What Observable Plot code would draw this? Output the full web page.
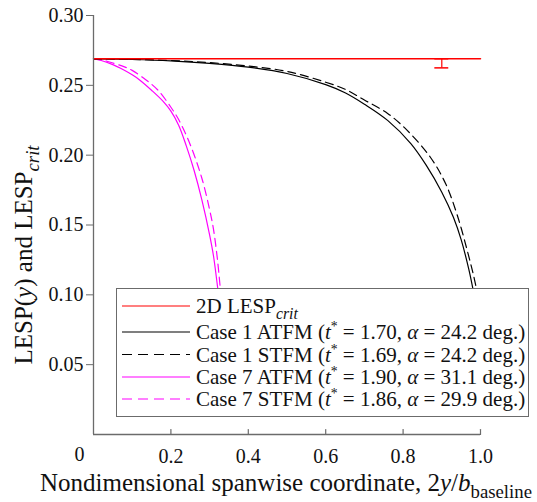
<!DOCTYPE html>
<html><head><meta charset="utf-8">
<script src="https://cdn.jsdelivr.net/npm/d3@7"></script>
<script src="https://cdn.jsdelivr.net/npm/@observablehq/plot@0.6"></script>
<style>
body{margin:0;background:#fff;}
#chart{position:relative;width:537px;height:502px;}
</style></head><body><div id="chart"></div>
<script>
// ---- data ----
const xTicks = [0.2, 0.4, 0.6, 0.8, 1.0];
const yTicks = [0.05, 0.10, 0.15, 0.20, 0.25, 0.30];
const originLabel = "0";

const critX = [0, 1.0];
const critY = [0.269, 0.269];
const errBarX = [0.9];
const errBarLow = [0.2625];
const errBarHigh = [0.269];

const case1AtfmX = [0, 0.1, 0.2, 0.3, 0.4, 0.5, 0.6, 0.65, 0.7, 0.76, 0.82, 0.86, 0.9, 0.93, 0.95, 0.97, 0.985];
const case1AtfmY = [0.269, 0.2685, 0.2675, 0.2657, 0.263, 0.2585, 0.2505, 0.2447, 0.2365, 0.2249, 0.2083, 0.1927, 0.1735, 0.1555, 0.1395, 0.118, 0.0977];

const case1StfmX = [0, 0.1, 0.2, 0.3, 0.4, 0.5, 0.6, 0.65, 0.7, 0.76, 0.81, 0.87, 0.91, 0.94, 0.965, 0.983, 0.995];
const case1StfmY = [0.269, 0.2686, 0.2678, 0.2663, 0.2638, 0.26, 0.2522, 0.2472, 0.2395, 0.2299, 0.2179, 0.1987, 0.1795, 0.157, 0.1325, 0.1127, 0.0971];

const case7AtfmX = [0, 0.02, 0.05, 0.07, 0.1, 0.12, 0.15, 0.18, 0.2, 0.22, 0.24, 0.26, 0.28, 0.3, 0.31, 0.32, 0.33];
const case7AtfmY = [0.269, 0.2678, 0.2648, 0.2622, 0.2575, 0.2537, 0.2465, 0.2385, 0.2315, 0.2215, 0.2065, 0.189, 0.168, 0.143, 0.128, 0.107, 0.085];

const case7StfmX = [0, 0.02, 0.05, 0.08, 0.1, 0.13, 0.15, 0.17, 0.2, 0.22, 0.25, 0.28, 0.3, 0.31, 0.32, 0.33, 0.335];
const case7StfmY = [0.269, 0.2683, 0.266, 0.2632, 0.2607, 0.255, 0.2508, 0.2455, 0.2343, 0.2255, 0.2075, 0.1835, 0.161, 0.147, 0.126, 0.097, 0.08];

const legendLabels = [
  [{t:"2D LESP"},{t:"crit",i:true,sub:true}],
  [{t:"Case 1 ATFM ("},{t:"t",i:true},{t:"*",sup:true},{t:" = 1.70, "},{t:"α",i:true},{t:" = 24.2 deg.)"}],
  [{t:"Case 1 STFM ("},{t:"t",i:true},{t:"*",sup:true},{t:" = 1.69, "},{t:"α",i:true},{t:" = 24.2 deg.)"}],
  [{t:"Case 7 ATFM ("},{t:"t",i:true},{t:"*",sup:true},{t:" = 1.90, "},{t:"α",i:true},{t:" = 31.1 deg.)"}],
  [{t:"Case 7 STFM ("},{t:"t",i:true},{t:"*",sup:true},{t:" = 1.86, "},{t:"α",i:true},{t:" = 29.9 deg.)"}]
];
const legendColors = ["#ff0000", "#000000", "#000000", "#ff00ff", "#ff00ff"];
const legendDash = [null, null, "10,6", null, "10,6"];
const xLabel = [{t:"Nondimensional spanwise coordinate, 2"},{t:"y",i:true},{t:"/"},{t:"b",i:true},{t:"baseline",sub:true}];
const yLabel = [{t:"LESP("},{t:"y",i:true},{t:") and LESP"},{t:"crit",i:true,sub:true}];

// ---- build ----
const zip = (xs, ys) => xs.map((x, k) => ({x, y: ys[k]}));
const FONT = "'Liberation Serif', 'Times New Roman', serif";
const DASH = "8,5";
const errCapHalf = 0.018;
const AX = "#6b6b6b";

const chart = Plot.plot({
  width: 537, height: 502,
  marginLeft: 93, marginRight: 57, marginTop: 15, marginBottom: 68,
  x: {domain: [0, 1]},
  y: {domain: [0, 0.3]},
  style: `font-family: ${FONT}; font-size: 20px; color: #111; background: #fff;`,
  marks: [
    Plot.line(zip(case7AtfmX, case7AtfmY), {x: "x", y: "y", stroke: "#ff00ff", strokeWidth: 1.2, curve: "catmull-rom"}),
    Plot.line(zip(case7StfmX, case7StfmY), {x: "x", y: "y", stroke: "#ff00ff", strokeWidth: 1.2, strokeDasharray: DASH, curve: "catmull-rom"}),
    Plot.line(zip(case1AtfmX, case1AtfmY), {x: "x", y: "y", stroke: "#000", strokeWidth: 1.2, curve: "catmull-rom"}),
    Plot.line(zip(case1StfmX, case1StfmY), {x: "x", y: "y", stroke: "#000", strokeWidth: 1.2, strokeDasharray: DASH, curve: "catmull-rom"}),
    Plot.line(zip(critX, critY), {x: "x", y: "y", stroke: "#ff0000", strokeWidth: 1.5}),
    Plot.ruleX(errBarX.map((x, k) => ({x, lo: errBarLow[k], hi: errBarHigh[k]})), {x: "x", y1: "lo", y2: "hi", stroke: "#ff0000", strokeWidth: 1.2}),
    Plot.ruleY(errBarX.flatMap((x, k) => [{x, y: errBarLow[k]}, {x, y: errBarHigh[k]}]), {y: "y", x1: d => d.x - errCapHalf, x2: d => d.x + errCapHalf, stroke: "#ff0000", strokeWidth: 1.5}),
    Plot.ruleX([0], {stroke: AX, strokeWidth: 1.3}),
    Plot.ruleY([0], {x1: 0, x2: 1, stroke: AX, strokeWidth: 1.3}),
    Plot.axisY({ticks: yTicks, tickSize: 7, tickPadding: 3, tickFormat: d3.format(".2f"), label: null, stroke: AX, fill: "#111", fontSize: 20, fontFamily: FONT}),
    Plot.axisX({ticks: xTicks, tickSize: 0, tickPadding: 14, tickFormat: d3.format(".1f"), label: null, fill: "#111", fontSize: 20, fontFamily: FONT}),
    Plot.vector(xTicks, {x: d => d, y: 0, length: 5, anchor: "start", stroke: AX, strokeWidth: 1.2,
      shape: {draw(ctx, l) { ctx.moveTo(0, 0); ctx.lineTo(0, -l); }}}),
    Plot.text([originLabel], {x: 0, y: 0, text: d => d, dx: -14, dy: 20, fontSize: 20, fontFamily: FONT, fill: "#111", lineAnchor: "middle"})
  ]
});
document.getElementById("chart").appendChild(chart);

const svg = d3.select(chart);

function richText(g, parts, size, anchor) {
  const t = g.append("text").attr("font-family", FONT).attr("font-size", size).attr("fill", "#111")
    .attr("text-anchor", anchor).style("font-family", FONT).style("font-size", size + "px");
  let shift = 0;
  for (const p of parts) {
    const s = t.append("tspan").text(p.t);
    if (p.i) s.attr("font-style", "italic");
    let target = 0;
    if (p.sub) { s.style("font-size", (size * 0.75) + "px"); target = size * 0.28; }
    if (p.sup) { s.style("font-size", (size * 0.65) + "px"); target = -size * 0.36; }
    if (target - shift !== 0) s.attr("dy", target - shift);
    shift = target;
  }
  return t;
}

// legend
const lg = svg.append("g");
lg.append("rect").attr("x", 116.5).attr("y", 288.5).attr("width", 412).attr("height", 128)
  .attr("fill", "#fff").attr("stroke", AX).attr("stroke-width", 1);
const rowY = [306, 332, 354.5, 377, 399];
legendLabels.forEach((parts, k) => {
  const l = lg.append("line").attr("x1", 122).attr("x2", 190).attr("y1", rowY[k]).attr("y2", rowY[k])
    .attr("stroke", legendColors[k]).attr("stroke-width", 1.2);
  if (legendDash[k]) l.attr("stroke-dasharray", legendDash[k]);
  richText(lg, parts, 21, "start").attr("x", 196).attr("y", rowY[k] + 7);
});

// axis labels
richText(svg.append("g"), xLabel, 25, "middle").attr("x", 286).attr("y", 491);
richText(svg.append("g").attr("transform", "translate(32,255) rotate(-90)"), yLabel, 25, "middle").attr("x", 0).attr("y", 0);
</script></body></html>
